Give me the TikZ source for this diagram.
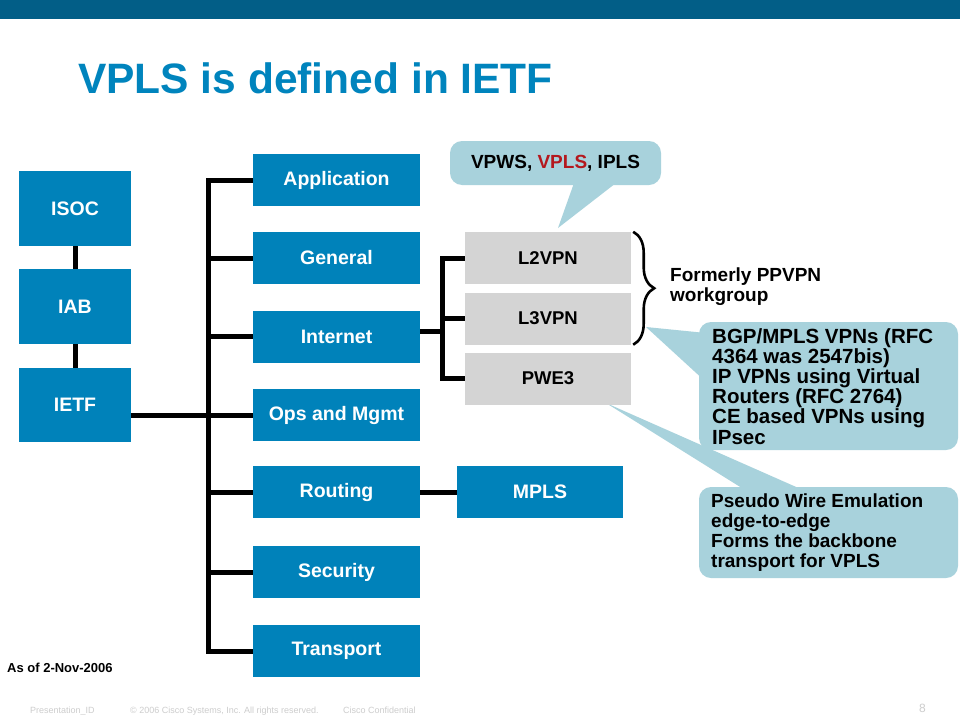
\documentclass[tikz,border=0pt]{standalone}
\usepackage{fontspec}
\setmainfont{Liberation Sans}
\usetikzlibrary{decorations.pathreplacing}
\definecolor{barblue}{RGB}{2,94,135}
\definecolor{titleblue}{RGB}{0,132,189}
\definecolor{boxblue}{RGB}{0,130,186}
\definecolor{graybox}{RGB}{212,212,212}
\definecolor{callblue}{RGB}{168,210,220}
\definecolor{vplsred}{RGB}{180,24,30}
\definecolor{footgray}{RGB}{205,205,205}
\tikzset{
  bluebox/.style={fill=boxblue, text=white, font=\fontsize{19.5}{21}\selectfont\bfseries, minimum width=167pt, minimum height=52pt, inner sep=0pt},
  leftbox/.style={bluebox, minimum width=112pt, minimum height=75pt},
  grybox/.style={fill=graybox, text=black, font=\fontsize{18.5}{20}\selectfont\bfseries, minimum width=166pt, minimum height=52pt, inner sep=0pt},
  conn/.style={line width=5pt, draw=black},
  callrect/.style={fill=callblue, rounded corners=12pt, inner sep=0pt},
  calltext/.style={align=left, inner sep=0pt, anchor=north west, text=black},
  foot/.style={font=\fontsize{9}{10}\selectfont, text=footgray, inner sep=0pt, anchor=base west}
}
\begin{document}
\begin{tikzpicture}[x=1pt,y=-1pt]
\useasboundingbox (0,0) rectangle (960,720);
\fill[white] (0,0) rectangle (960,720);
\fill[barblue] (0,0) rectangle (960,19);
\node[anchor=base west, inner sep=0pt, text=titleblue, font=\fontsize{42.5}{46}\selectfont\bfseries] (title) at (78,93) {VPLS is defined in IETF};

% callouts (behind boxes)
\node[callrect, minimum width=211pt, minimum height=44pt] (c1) at (555.5,163) {};
\coordinate (t1) at (558,228);
\fill[callblue] (t1) -- (574,183) -- (616,183) -- cycle;
\node[anchor=center, inner sep=0pt, font=\fontsize{19}{20}\selectfont\bfseries] (c1txt) at (c1.center) {VPWS, \textcolor{vplsred}{VPLS}, IPLS};

\node[callrect, minimum width=259pt, minimum height=128pt] (c2) at (828.5,386) {};
\coordinate (t2) at (646,327);
\fill[callblue] (t2) -- (706,333) -- (706,382) -- cycle;
\node[calltext, font=\fontsize{20.5}{20.2}\selectfont\bfseries] (c2txt) at (712,328) {BGP/MPLS VPNs (RFC\\4364 was 2547bis)\\IP VPNs using Virtual\\Routers (RFC 2764)\\CE based VPNs using\\IPsec};

\node[callrect, minimum width=259pt, minimum height=91pt] (c3) at (828.5,532.5) {};
\coordinate (t3) at (606,403);
\fill[callblue] (t3) -- (745,490) -- (803,490) -- cycle;
\node[calltext, font=\fontsize{19}{20}\selectfont\bfseries] (c3txt) at (711,494) {Pseudo Wire Emulation\\edge-to-edge\\Forms the backbone\\transport for VPLS};

% left column
\node[leftbox] (isoc) at (75,208.5) {ISOC};
\node[leftbox] (iab) at (75,306.5) {IAB};
\node[leftbox, minimum height=74pt] (ietf) at (75,405) {IETF};
\draw[conn] (isoc) -- (iab);
\draw[conn] (iab) -- (ietf);

% areas
\node[bluebox] (app) at (336.5,180) {Application};
\node[bluebox] (gen) at (336.5,258) {General};
\node[bluebox] (inet) at (336.5,336.5) {Internet};
\node[bluebox] (ops) at (336.5,415) {Ops and Mgmt};
\node[bluebox] (rout) at (336.5,492) {Routing};
\node[bluebox] (sec) at (336.5,572) {Security};
\node[bluebox] (trans) at (336.5,651) {Transport};

\coordinate (bx) at (208,0);
\draw[conn] (app.west) -- (app.west -| bx) -- (trans.west -| bx) -- (trans.west);
\draw[conn] (gen.west) -- (gen.west -| bx);
\draw[conn] (inet.west) -- (inet.west -| bx);
\draw[conn] (rout.west) -- (rout.west -| bx);
\draw[conn] (sec.west) -- (sec.west -| bx);
\draw[conn] (ops.west) -- (ops.west -| ietf.east);

% working groups
\node[grybox] (l2) at (548,258) {L2VPN};
\node[grybox] (l3) at (548,318.5) {L3VPN};
\node[grybox] (pwe) at (548,378.5) {PWE3};
\coordinate (gx) at (442,0);
\draw[conn] (l2.west) -- (l2.west -| gx) -- (pwe.west -| gx) -- (pwe.west);
\draw[conn] (l3.west) -- (l3.west -| gx);
\draw[conn] ([yshift=5pt]inet.east) -- ([yshift=5pt]inet.east -| gx);

\node[bluebox, minimum width=166pt] (mpls) at (540,492) {MPLS};
\draw[conn] (rout) -- (mpls);

% brace
\draw[line width=2.6pt, decorate, decoration={brace, amplitude=21pt}] ([xshift=2pt]l2.north east) -- ([xshift=2pt]l3.south east) coordinate (bend);
\node[anchor=north west, inner sep=0pt, align=left, font=\fontsize{19}{20}\selectfont\bfseries] (ppvpn) at (670,268) {Formerly PPVPN\\workgroup};

\node[anchor=base west, inner sep=0pt, font=\fontsize{13}{16}\selectfont\bfseries] (asof) at (7,672) {As of 2-Nov-2006};

% footer
\node[foot] (f1) at (30,713) {Presentation\_ID};
\node[foot] (f2) at (130,713) {© 2006 Cisco Systems, Inc. All rights reserved.};
\node[foot] (f3) at (343,713) {Cisco Confidential};
\node[anchor=base west, inner sep=0pt, text=footgray, font=\fontsize{12}{14}\selectfont] (pg) at (919,712) {8};
\end{tikzpicture}
\end{document}
